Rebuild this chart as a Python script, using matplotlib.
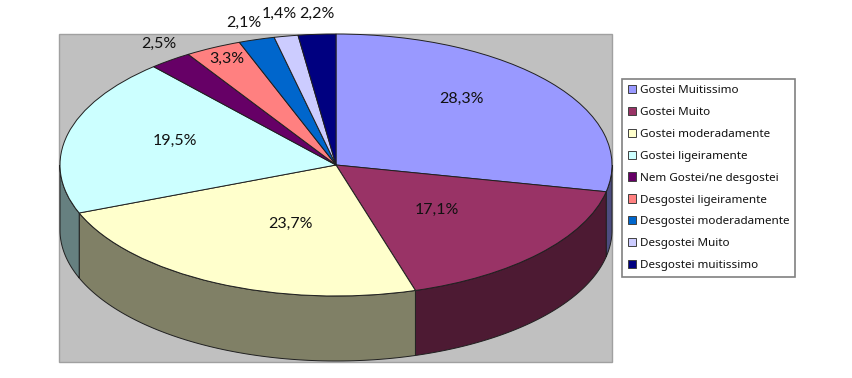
import numpy as np
import matplotlib
matplotlib.use("Agg")
import matplotlib.pyplot as plt
from matplotlib.patches import Rectangle, Polygon

categories = ["Gostei Muitissimo", "Gostei Muito", "Gostei moderadamente",
              "Gostei ligeiramente", "Nem Gostei/ne desgostei", "Desgostei ligeiramente",
              "Desgostei moderadamente", "Desgostei Muito", "Desgostei muitissimo"]
values = [28.3, 17.1, 23.7, 19.5, 2.5, 3.3, 2.1, 1.4, 2.2]
labels = ["28,3%", "17,1%", "23,7%", "19,5%", "2,5%", "3,3%", "2,1%", "1,4%", "2,2%"]
colors = ["#9999FF", "#993366", "#FFFFCC", "#CCFFFF", "#660066",
          "#FF8080", "#0066CC", "#CCCCFF", "#000080"]
wall_colors = ["#4D4D80", "#4D1A33", "#808066", "#668080", "#330033",
               "#804040", "#003366", "#666680", "#000040"]

# label centres in pixels
label_x = [461, 437, 290, 175, 159, 227, 244, 279, 317]
label_y = [99, 210, 224, 141, 44, 59, 23, 14, 14]

W, H = 853, 378
cx, cy, rx, ry, depth = 336, 165, 276, 131, 65


def px(x):
    return (x - cx) / rx


def py(y):
    return (cy - y) / ry


fig = plt.figure(figsize=(W / 100, H / 100), dpi=100)
ax = fig.add_axes([0, 0, 1, 1])

ax.add_patch(Rectangle((px(59), py(362)), 553 / rx, 328 / ry, fc="#C0C0C0",
                       ec="#A0A0A0", lw=1, zorder=0))

wedges, _ = ax.pie(values, startangle=90, counterclock=False, colors=colors,
                   wedgeprops=dict(ec="#202020", lw=0.7, zorder=3), frame=True)
ax.set_aspect("auto")
ax.set_xlim(px(0), px(W))
ax.set_ylim(py(H), py(0))
ax.axis("off")

# side wall of the disc
d = depth / ry
ends = np.cumsum(values) / sum(values) * 360
starts = ends - np.array(values) / sum(values) * 360
for a0, a1, c in zip(starts, ends, wall_colors):
    lo, hi = max(a0, 90), min(a1, 270)
    if lo >= hi:
        continue
    t = np.radians(np.linspace(lo, hi, 80))
    x, y = np.sin(t), np.cos(t)
    pts = np.r_[np.c_[x, y], np.c_[x, y - d][::-1]]
    ax.add_patch(Polygon(pts, fc=c, ec="#202020", lw=0.7, zorder=2))

for s, x, y in zip(labels, label_x, label_y):
    ax.text(px(x), py(y), s, family="Lato", fontsize=11.5, color="#111111",
            ha="center", va="center", zorder=5)

leg = ax.legend(wedges, categories, loc="upper left",
                bbox_to_anchor=(622 / W, 1 - 79 / H), bbox_transform=fig.transFigure,
                prop=dict(family="Noto Sans", size=8.4), frameon=True, fancybox=False,
                edgecolor="#808080", facecolor="white", framealpha=1,
                handlelength=0.68, handleheight=0.7, handletextpad=0.36,
                labelspacing=0.92, borderpad=0.5, borderaxespad=0, labelcolor="#111111")
leg.get_frame().set_linewidth(1.2)
for h in leg.legend_handles:
    h.set_edgecolor("#404040")
    h.set_linewidth(0.7)

fig.savefig("out.png", dpi=100)
